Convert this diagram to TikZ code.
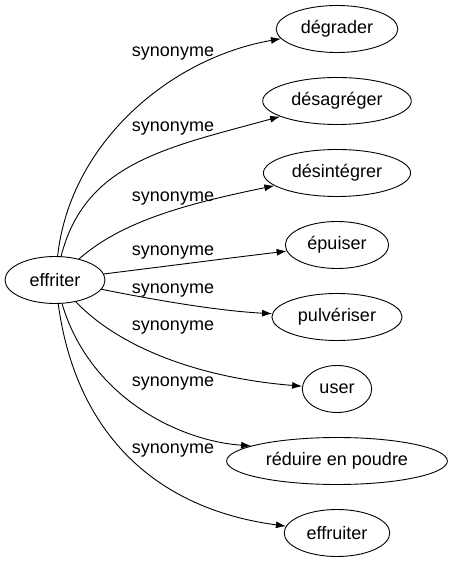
\documentclass[tikz,border=0pt]{standalone}
\usepackage{fontspec}
\setmainfont{Liberation Sans}
\usepackage{tikz}
\usetikzlibrary{shapes.geometric,arrows.meta}
\tikzset{>={Latex[length=10pt,width=7pt]}}
\tikzset{mot/.style={draw,ellipse,line width=0.9pt,inner xsep=7pt,minimum height=47pt,font=\fontsize{18}{20}\selectfont}}
\tikzset{lien/.style={->,line width=0.9pt}}
\tikzset{etiq/.style={font=\fontsize{18}{20}\selectfont}}

\begin{document}
\begin{tikzpicture}[x=1pt,y=1pt]
\useasboundingbox (0,0) rectangle (449,563);
    \node[mot,inner xsep=10pt] (eff) at (55,283) {effriter};
    \node[mot] (t1) at (337,534) {dégrader};
    \node[mot] (t2) at (337,462) {désagréger};
    \node[mot] (t3) at (337,390) {désintégrer};
    \node[mot] (t4) at (337,318) {épuiser};
    \node[mot] (t5) at (337,246) {pulvériser};
    \node[mot] (t6) at (337,174) {user};
    \node[mot] (t7) at (337,102) {réduire en poudre};
    \node[mot] (t8) at (337,30) {effruiter};
    % les liens
    \draw[lien] (eff) .. controls (70,420) and (170,505) .. (t1);
    \draw[lien] (eff) .. controls (85,400) and (165,415) .. (t2);
    \draw[lien] (eff) .. controls (120,340) and (180,358) .. (t3);
    \draw[lien] (eff) .. controls (160,296) and (230,305) .. (t4);
    \draw[lien] (eff) .. controls (160,262) and (220,252) .. (t5);
    \draw[lien] (eff) .. controls (120,215) and (200,185) .. (t6);
    \draw[lien] (eff) .. controls (90,165) and (180,122) .. (t7.170);
    \draw[lien] (eff) .. controls (75,135) and (150,55) .. (t8);
    % les etiquettes
    \node[etiq] (s1) at (173,509) {synonyme};
    \node[etiq] (s2) at (173,434) {synonyme};
    \node[etiq] (s3) at (173,364) {synonyme};
    \node[etiq] (s4) at (173,310) {synonyme};
    \node[etiq] (s5) at (173,272) {synonyme};
    \node[etiq] (s6) at (173,235) {synonyme};
    \node[etiq] (s7) at (173,179) {synonyme};
    \node[etiq] (s8) at (173,112) {synonyme};
\end{tikzpicture}
\end{document}
